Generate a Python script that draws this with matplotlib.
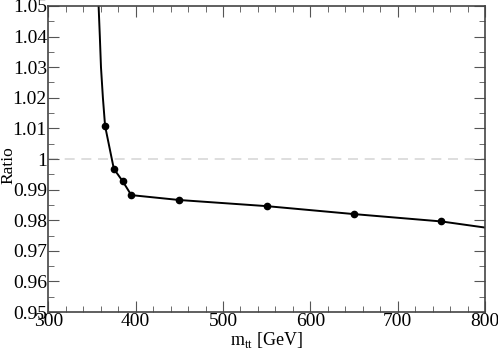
import matplotlib
matplotlib.use("Agg")
import matplotlib.pyplot as plt
from matplotlib.ticker import MultipleLocator

# curve through the points (the first ones only shape the steep part)
line_x = [357.3, 359.0, 360.3, 362.5, 365, 375, 385, 395, 450, 550, 650, 750, 800]
line_y = [1.052, 1.040, 1.030, 1.020, 1.0108, 0.9968, 0.9928, 0.9882, 0.9866, 0.9846, 0.9820, 0.9796, 0.9776]
# marked points
pts_x = [365, 375, 385, 395, 450, 550, 650, 750]
pts_y = [1.0108, 0.9968, 0.9928, 0.9882, 0.9866, 0.9846, 0.9820, 0.9796]

plt.rcParams["font.family"] = ["Liberation Serif", "DejaVu Serif"]
plt.rcParams["mathtext.fontset"] = "custom"
plt.rcParams["mathtext.rm"] = "Liberation Serif"

fig, ax = plt.subplots(figsize=(4.98, 3.51), dpi=100)
fig.subplots_adjust(left=0.097, right=0.974, top=0.983, bottom=0.111)

ax.axhline(1.0, color="#d8d8d8", lw=1.2, ls=(0, (6, 4)), zorder=1)
ax.plot(line_x, line_y, color="black", lw=1.4, zorder=2)
ax.plot(pts_x, pts_y, "o", color="black", ms=4.5, zorder=3)

ax.set_xlim(300, 800)
ax.set_ylim(0.95, 1.05)
ax.xaxis.set_major_locator(MultipleLocator(100))
ax.xaxis.set_minor_locator(MultipleLocator(20))
ax.yaxis.set_major_locator(MultipleLocator(0.01))
ax.yaxis.set_minor_locator(MultipleLocator(0.005))
ax.yaxis.set_major_formatter(plt.FuncFormatter(lambda v, p: f"{v:.2f}".rstrip("0").rstrip(".")))

ax.tick_params(which="both", direction="in", top=True, right=True,
               color="#555555", labelsize=14, pad=1)
ax.tick_params(which="major", length=8)
ax.tick_params(which="minor", length=4)
for s in ax.spines.values():
    s.set_color("#444444")
    s.set_linewidth(1.2)

ax.set_xlabel(r"m$_{\rm tt}$ [GeV]", fontsize=13, labelpad=0)
ax.set_ylabel("Ratio", fontsize=12.5)
ax.yaxis.set_label_coords(-0.072, 0.48)

fig.savefig("out.png", dpi=100)
